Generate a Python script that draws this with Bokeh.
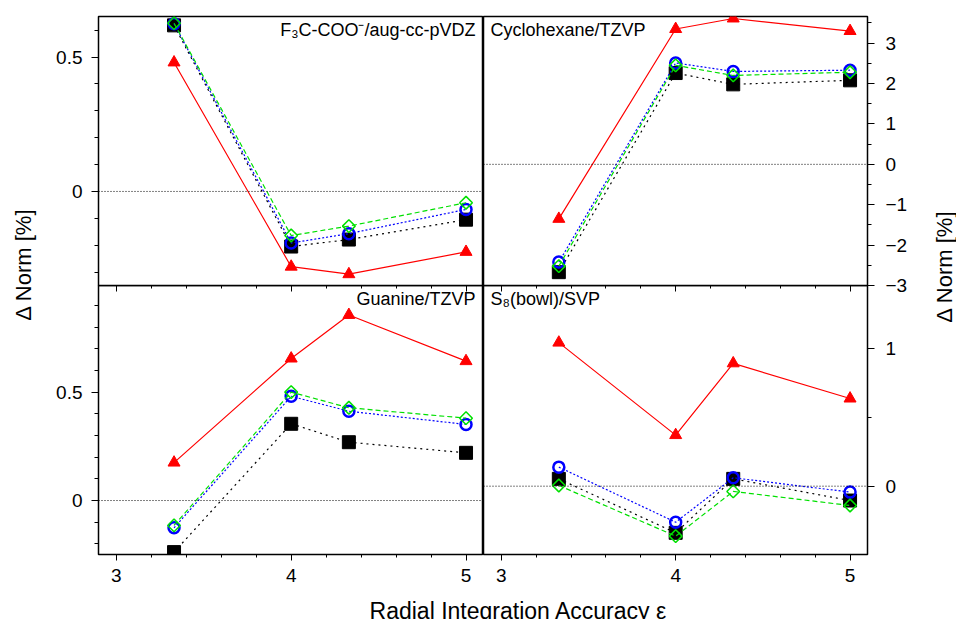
import math
from bokeh.plotting import figure
from bokeh.layouts import row, column
from bokeh.models import Range1d, LinearAxis, SingleIntervalTicker, Span, Label
from bokeh.embed import file_html
from bokeh.resources import INLINE
from bokeh.core.properties import value

FONT = "Liberation Sans"

# ---------------- data ----------------
eps = [3.33, 4.0, 4.33, 5.0]

f3c_black = [0.618, -0.205, -0.179, -0.105]
f3c_blue = [0.624, -0.192, -0.157, -0.067]
f3c_green = [0.626, -0.164, -0.129, -0.042]
f3c_red = [0.480, -0.280, -0.308, -0.225]

cyc_black = [-2.67, 2.26, 1.98, 2.08]
cyc_blue = [-2.42, 2.51, 2.30, 2.33]
cyc_green = [-2.52, 2.45, 2.20, 2.28]
cyc_red = [-1.35, 3.35, 3.61, 3.30]

gua_black = [-0.238, 0.354, 0.269, 0.220]
gua_blue = [-0.126, 0.481, 0.412, 0.351]
gua_green = [-0.115, 0.500, 0.428, 0.380]
gua_red = [0.175, 0.655, 0.856, 0.643]

s8_black = [0.053, -0.338, 0.053, -0.104]
s8_blue = [0.138, -0.261, 0.061, -0.043]
s8_green = [0.005, -0.362, -0.038, -0.140]
s8_red = [1.04, 0.37, 0.89, 0.635]

titles = ["F\u2083C-COO\u207b/aug-cc-pVDZ", "Cyclohexane/TZVP", "Guanine/TZVP", "S\u2088(bowl)/SVP"]
x_label = "Radial Integration Accuracy \u03b5"
y_label = "\u0394 Norm [%]"

x_range = (2.898, 5.10)
x_interval, x_minor = 1, 5
y_ranges = [(-0.35, 0.651), (-3.0, 3.66), (-0.249, 0.992), (-0.495, 1.454)]
y_intervals = [(0.5, 5), (1, 2), (0.5, 5), (1, 2)]

# ---------------- styles ----------------
series_styles = [
    (dict(line_color="black", line_dash="2 4", line_width=1.2),
     dict(marker="square", size=13, fill_color="black", line_color="black")),
    (dict(line_color="#0000ff", line_dash="2 2", line_width=1.2),
     dict(marker="circle", size=11, fill_color=None, line_color="#0000ff", line_width=2.5)),
    (dict(line_color="#00e000", line_dash="5 3", line_width=1.2),
     dict(marker="square", size=9, angle=math.pi / 4, fill_color=None, line_color="#00e000", line_width=1.5)),
    (dict(line_color="#ff0000", line_width=1.2),
     dict(marker="triangle", size=12, fill_color="#ff0000", line_color="#ff0000")),
]


def style_axis(ax, tick_out, minor_out, standoff, tick_in=0, minor_in=0, labels=True):
    ax.axis_line_color = None
    ax.major_tick_line_color = "black"
    ax.minor_tick_line_color = "black"
    ax.major_tick_line_width = 1
    ax.minor_tick_line_width = 1
    ax.major_tick_in = tick_in
    ax.major_tick_out = tick_out
    ax.minor_tick_in = minor_in
    ax.minor_tick_out = minor_out
    ax.major_label_standoff = standoff
    ax.major_label_text_font = FONT
    ax.major_label_text_color = "black" if labels else None
    ax.major_label_text_font_size = "19px"


def panel(idx, series, side, width, height, borders, bottom_row, margin=None):
    bl, br, bt, bb = borders
    p = figure(width=width, height=height,
               x_range=Range1d(*x_range), y_range=Range1d(*y_ranges[idx]),
               output_backend="svg", toolbar_location=None,
               x_axis_location=None, y_axis_location=None,
               min_border_left=bl, min_border_right=br,
               min_border_top=bt, min_border_bottom=bb,
               outline_line_color="black", outline_line_width=1.5,
               background_fill_color=None, border_fill_color=None)
    if margin is not None:
        p.margin = margin
    p.grid.visible = False

    yi, ym = y_intervals[idx]
    yax = LinearAxis(ticker=SingleIntervalTicker(interval=yi, num_minor_ticks=ym))
    style_axis(yax, 7, 4, 9 if side == "left" else 11)
    p.add_layout(yax, side)

    xax = LinearAxis(ticker=SingleIntervalTicker(interval=x_interval, num_minor_ticks=x_minor))
    if bottom_row:
        style_axis(xax, 6, 3, 8)
    else:
        # ticks hanging down from the shared edge into the lower panel, no labels
        style_axis(xax, 6, 3, 0, labels=False)
    p.add_layout(xax, "below")

    p.add_layout(Span(location=0, dimension="width", line_color="black",
                      line_dash="1 2", line_width=1))

    for ys, (lkw, mkw) in zip(series, series_styles):
        p.line(eps, ys, **lkw)
        p.scatter(eps, ys, **mkw)

    yr = y_ranges[idx]
    if side == "left":
        lab = Label(x=x_range[1], y=yr[1], x_offset=-8, y_offset=-3, text=titles[idx],
                    text_align="right", text_baseline="top")
    else:
        lab = Label(x=x_range[0], y=yr[1], x_offset=7, y_offset=-3, text=titles[idx],
                    text_align="left", text_baseline="top")
    lab.text_font = FONT
    lab.text_font_size = "18px"
    lab.text_color = "black"
    p.add_layout(lab)
    return p


def text_fig(width, height, tx, ty, text, angle, size):
    p = figure(width=width, height=height, x_range=Range1d(0, width), y_range=Range1d(height, 0),
               output_backend="svg", toolbar_location=None,
               x_axis_location=None, y_axis_location=None, min_border=0,
               outline_line_color=None, border_fill_color=None, background_fill_color=None)
    p.grid.visible = False
    p.text(x=[tx], y=[ty], text=[text], angle=angle,
           text_font=value(FONT), text_font_size=size, text_color="black",
           text_align="center", text_baseline="alphabetic" if angle == 0 else "middle")
    return p


tl = panel(0, [f3c_black, f3c_blue, f3c_green, f3c_red], "left", 443, 297, (58, 0, 16, 12), False,
           margin=(0, 0, -12, 0))
tr = panel(1, [cyc_black, cyc_blue, cyc_green, cyc_red], "right", 443, 297, (0, 59, 16, 12), False,
           margin=(0, 0, -12, 0))
bl = panel(2, [gua_black, gua_blue, gua_green, gua_red], "left", 443, 305, (58, 0, 0, 36), True)
br = panel(3, [s8_black, s8_blue, s8_green, s8_red], "right", 443, 305, (0, 59, 0, 36), True)

left_lab = text_fig(40, 590, 23, 264, y_label, math.pi / 2, "22px")
right_lab = text_fig(30, 590, 18, 266, y_label, math.pi / 2, "22px")
bottom_lab = text_fig(956, 29, 518, 20, x_label, 0, "23px")

grid = column(row(tl, tr), row(bl, br))
layout = column(row(left_lab, grid, right_lab), bottom_lab)

open("out.html", "w").write(file_html(layout, INLINE))
